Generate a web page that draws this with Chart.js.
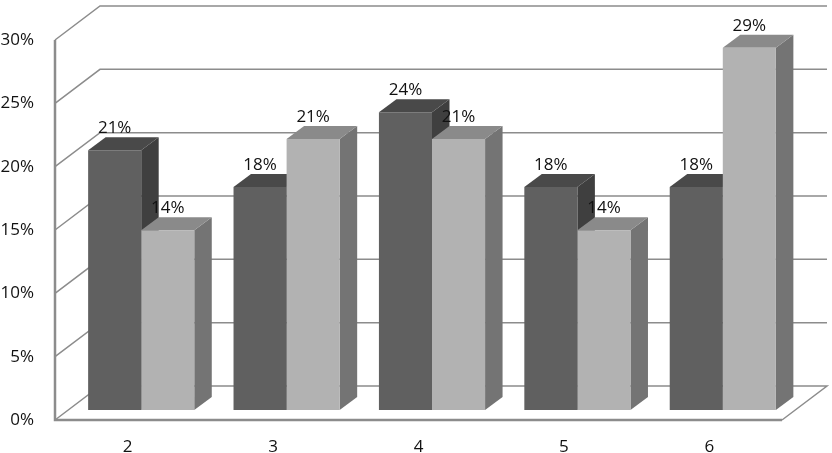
<!DOCTYPE html>
<html>
<head>
<meta charset="utf-8">
<style>
html,body{margin:0;padding:0;background:#fff;}
#wrap{position:relative;width:832px;height:453px;}
</style>
<script src="https://cdn.jsdelivr.net/npm/chart.js@4"></script>
</head>
<body>
<div id="wrap"><canvas id="c" width="832" height="453"></canvas></div>
<script>
const categories = ['2','3','4','5','6'];
const seriesDark = [20.5, 17.6, 23.5, 17.6, 17.6];
const seriesLight = [14.2, 21.4, 21.4, 14.2, 28.6];
const yTicks = [0,5,10,15,20,25,30];

const FONT = '17px "Open Sans"';
const SHIFT = {x:13.5, y:-10};
const DEPTH = {x:17.5, y:-13};
const WALL = {x:45, y:-34};
const GRID = '#8c8c8c';
const FACES = [
  {front:'#606060', top:'#494949', side:'#3f3f3f'},
  {front:'#b2b2b2', top:'#8a8a8a', side:'#747474'}
];

function drawFaces(ctx, meta, c){
  meta.data.forEach(b=>{
    const w = b.width/2;
    const xl = b.x-w, xr = b.x+w, yt = b.y, yb = b.base;
    ctx.fillStyle = c.side;
    ctx.beginPath();
    ctx.moveTo(xr,yt);ctx.lineTo(xr+DEPTH.x,yt+DEPTH.y);
    ctx.lineTo(xr+DEPTH.x,yb+DEPTH.y);ctx.lineTo(xr,yb);
    ctx.closePath();ctx.fill();
    ctx.fillStyle = c.top;
    ctx.beginPath();
    ctx.moveTo(xl,yt);ctx.lineTo(xl+DEPTH.x,yt+DEPTH.y);
    ctx.lineTo(xr+DEPTH.x,yt+DEPTH.y);ctx.lineTo(xr,yt);
    ctx.closePath();ctx.fill();
  });
}

const plugin3d = {
  id:'plugin3d',
  beforeDatasetsDraw(chart){
    const {ctx, scales:{x,y}} = chart;
    const l = x.left, r = x.right;
    ctx.save();
    ctx.strokeStyle = GRID;
    ctx.lineCap = 'butt';
    yTicks.forEach(v=>{
      const p = y.getPixelForValue(v);
      ctx.lineWidth = 1.5;
      ctx.beginPath();
      ctx.moveTo(l,p);
      ctx.lineTo(l+WALL.x,p+WALL.y);
      ctx.lineTo(r+WALL.x,p+WALL.y);
      if(v===0){ ctx.lineTo(r,p); }
      ctx.stroke();
    });
    ctx.lineWidth = 2.5;
    ctx.beginPath();
    ctx.moveTo(l,y.getPixelForValue(30));
    ctx.lineTo(l,y.getPixelForValue(0));
    ctx.lineTo(r,y.getPixelForValue(0));
    ctx.stroke();
    ctx.restore();
  },
  beforeDatasetDraw(chart,args){
    const ctx = chart.ctx;
    ctx.save();
    ctx.translate(SHIFT.x,SHIFT.y);
    // the light series is painted first by the library, so both sets of
    // side and top faces go down here, under every front face
    if(args.index===1){
      drawFaces(ctx, chart.getDatasetMeta(0), FACES[0]);
      drawFaces(ctx, args.meta, FACES[1]);
    }
  },
  afterDatasetDraw(chart){
    chart.ctx.restore();
  },
  afterDatasetsDraw(chart){
    const ctx = chart.ctx;
    ctx.save();
    ctx.font = FONT;
    ctx.fillStyle = '#111';
    ctx.textAlign = 'center';
    ctx.textBaseline = 'middle';
    chart.data.datasets.forEach((ds,i)=>{
      chart.getDatasetMeta(i).data.forEach((b,j)=>{
        ctx.fillText(Math.round(ds.data[j])+'%', b.x+SHIFT.x, b.y+SHIFT.y-22);
      });
    });
    ctx.restore();
  }
};

new Chart(document.getElementById('c'),{
  type:'bar',
  data:{
    labels:categories,
    datasets:[
      {data:seriesDark, backgroundColor:FACES[0].front, borderWidth:0, clip:false},
      {data:seriesLight, backgroundColor:FACES[1].front, borderWidth:0, clip:false}
    ]
  },
  options:{
    responsive:false,
    animation:false,
    devicePixelRatio:1,
    layout:{padding:{top:40,right:50,left:0,bottom:0}},
    plugins:{legend:{display:false},tooltip:{enabled:false},title:{display:false}},
    datasets:{bar:{categoryPercentage:0.73,barPercentage:1}},
    scales:{
      x:{
        afterFit(s){s.height=33;},
        grid:{display:false},
        border:{display:false},
        ticks:{color:'#111',font:{family:'"Open Sans"',size:17},padding:9,maxRotation:0}
      },
      y:{
        min:0,max:30,
        afterFit(s){s.width=55;},
        grid:{display:false},
        border:{display:false},
        ticks:{stepSize:5,color:'#111',font:{family:'"Open Sans"',size:17},padding:13,callback:v=>v+'%'}
      }
    }
  },
  plugins:[plugin3d]
});
</script>
</body>
</html>
